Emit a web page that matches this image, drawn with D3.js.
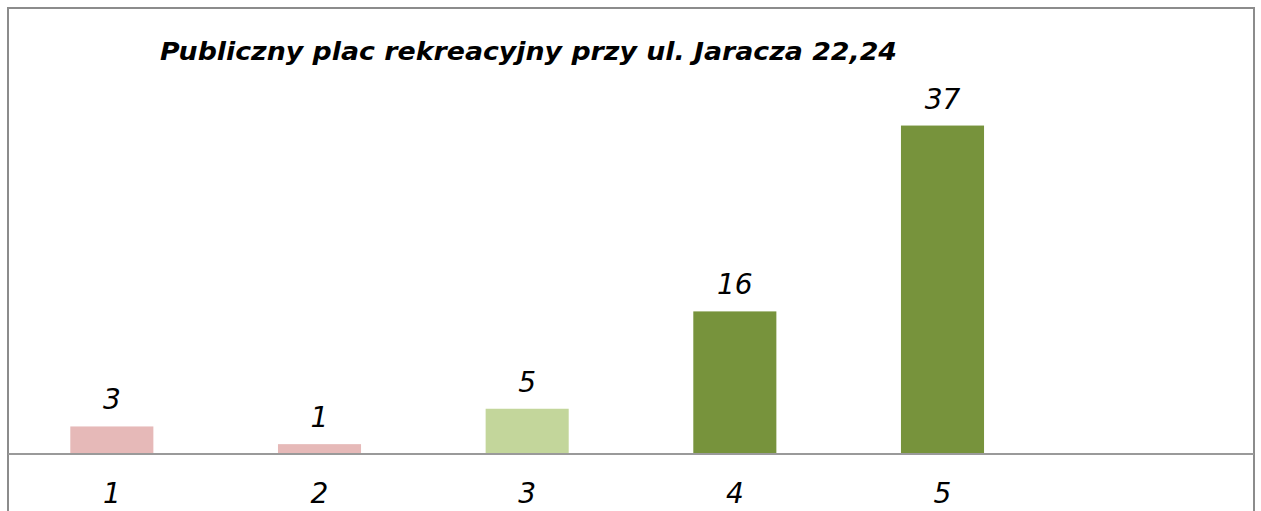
<!DOCTYPE html>
<html>
<head>
    <title>bar chart</title>
    <script src="https://d3js.org/d3.v7.min.js"></script>
    <style>
        body { margin: 0; background: #fff; }
        .frame { fill: none; stroke: #8c8c8c; stroke-width: 2; }
        .base-line { stroke: #9a9a9a; stroke-width: 2; }
        .title { font-family: "DejaVu Sans Condensed", "DejaVu Sans", sans-serif; font-stretch: condensed; font-weight: bold; font-style: italic; font-size: 25px; }
        .value-label, .cat-label { font-family: "DejaVu Sans", Verdana, sans-serif; font-style: italic; font-size: 28px; fill: #000; }
    </style>
</head>
<body>
<script>
    var categories = ["1", "2", "3", "4", "5", ""];
    var values = [3, 1, 5, 16, 37, null];
    var barColors = ["#e6b9b8", "#e6b9b8", "#c3d69b", "#77933c", "#77933c", "#77933c"];
    var titleText = "Publiczny plac rekreacyjny przy ul. Jaracza 22,24";

    var width = 1261, height = 511;
        left = 8; right = 1254;
        baseY = 453; topY = 99;

    var svg = d3.select("body").append("svg")
        .attr("width", width)
        .attr("height", height);

    // outer frame (bottom runs off the picture)
    svg.append("rect").attr("class", "frame")
        .attr("x", 8).attr("y", 8)
        .attr("width", right - 8).attr("height", height + 20);

    var x = d3.scaleBand()
        .domain(d3.range(categories.length))
        .range([left, right])
        .paddingInner(0.6)
        .paddingOuter(0.3);

    var y = d3.scaleLinear().domain([0, 40]).range([baseY, topY]);

    var data = values.map(function (v, i) { return { i: i, v: v }; })
        .filter(function (d) { return d.v !== null; });

    svg.selectAll(".bar")
        .data(data).enter().append("rect")
        .attr("class", "bar")
        .attr("x", function (d) { return x(d.i); })
        .attr("width", x.bandwidth())
        .attr("y", function (d) { return y(d.v); })
        .attr("height", function (d) { return y(0) - y(d.v); })
        .attr("fill", function (d) { return barColors[d.i]; });

    svg.append("line").attr("class", "base-line")
        .attr("x1", left).attr("x2", right)
        .attr("y1", y(0) + 1).attr("y2", y(0) + 1);

    svg.selectAll(".value-label")
        .data(data).enter().append("text")
        .attr("class", "value-label")
        .attr("text-anchor", "middle")
        .attr("x", function (d) { return x(d.i) + x.bandwidth() / 2; })
        .attr("y", function (d) { return y(d.v) - 17; })
        .text(function (d) { return d.v; });

    svg.selectAll(".cat-label")
        .data(categories).enter().append("text")
        .attr("class", "cat-label")
        .attr("text-anchor", "middle")
        .attr("x", function (d, i) { return x(i) + x.bandwidth() / 2; })
        .attr("y", 503)
        .text(function (d) { return d; });

    svg.append("text").attr("class", "title")
        .attr("x", 160).attr("y", 60)
        .attr("textLength", 737)
        .attr("lengthAdjust", "spacingAndGlyphs")
        .text(titleText);
</script>
</body>
</html>
